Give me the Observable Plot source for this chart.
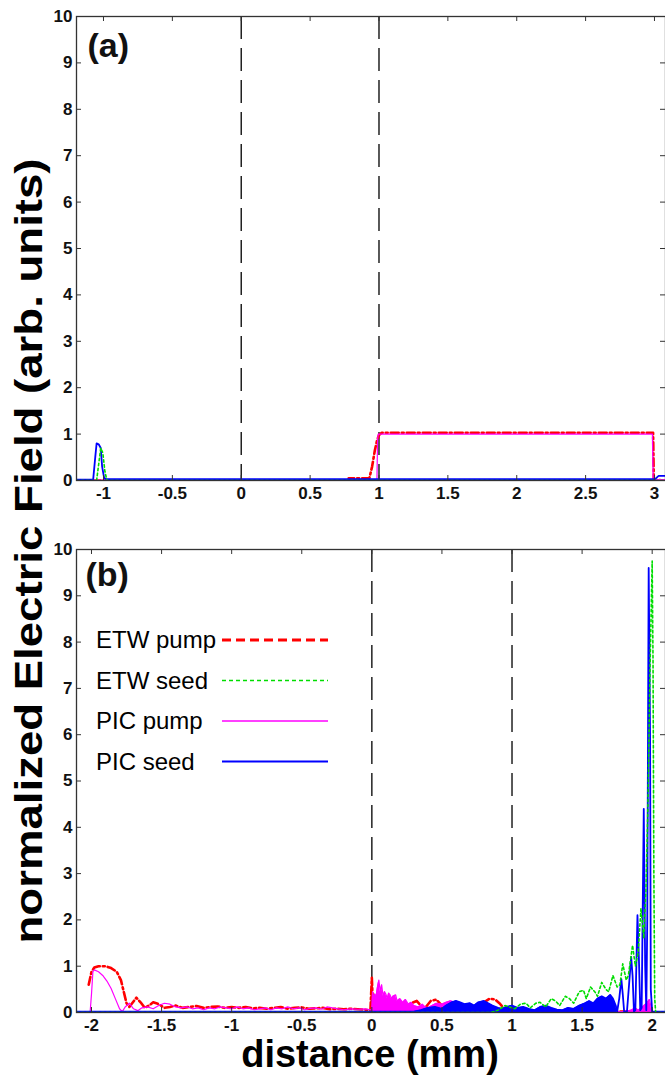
<!DOCTYPE html>
<html>
<head>
<meta charset="utf-8">
<script src="https://cdn.jsdelivr.net/npm/d3@7"></script>
<script src="https://cdn.jsdelivr.net/npm/@observablehq/plot@0.6"></script>
<style>
  html, body { margin: 0; padding: 0; background: #fff; }
  #wrap { position: relative; width: 665px; height: 1076px; overflow: hidden; font-family: "Liberation Sans", Arial, sans-serif; }
  #wrap > .panel { position: absolute; left: 0; }
  #wrap > svg.overlay { position: absolute; left: 0; top: 0; }
</style>
</head>
<body>
<div id="wrap"></div>
<script>
// ---------- data ----------
const yTicks = [0,1,2,3,4,5,6,7,8,9,10];
const aXTicks = [-1,-0.5,0,0.5,1,1.5,2,2.5,3];
const bXTicks = [-2,-1.5,-1,-0.5,0,0.5,1,1.5,2];
const markerLines = [0, 1];
const legendNames = ["ETW pump", "ETW seed", "PIC pump", "PIC seed"];

// panel (a)
const a_etwPump = [[-1.196,0],[0.78,0],[0.78,0.05],[0.93,0.05],[0.95,0.3],[0.97,0.65],[0.985,0.85],[1.0,0.98],[1.02,1.03],[2.99,1.03],[2.995,0.02],[3.08,0]];
const a_etwSeed = [[-1.196,0],[-1.05,0],[-1.035,0.35],[-1.02,0.7],[-1.005,0.6],[-0.99,0.2],[-0.975,0],[3.08,0]];
const a_picPump = [[-1.196,0.01],[0.985,0.01],[0.99,0.9],[0.995,1.0],[2.985,1.0],[2.99,0.02],[3.08,0.02]];
const a_picSeed = [[-1.196,0.02],[-1.075,0.02],[-1.06,0.5],[-1.05,0.8],[-1.035,0.78],[-1.02,0.7],[-1.01,0.3],[-0.995,0.05],[-0.98,0.03],[2.99,0.03],[3.0,0.02],[3.03,0.1],[3.08,0.1]];

// panel (b)
const b_etwPump = [[-2.02,0.6],[-2.0,0.88],[-1.98,0.97],[-1.95,1.0],[-1.9,1.0],[-1.86,0.96],[-1.82,0.88],[-1.79,0.7],[-1.77,0.45],[-1.75,0.2],[-1.73,0.12],[-1.71,0.2],[-1.68,0.32],[-1.65,0.22],[-1.62,0.1],[-1.59,0.15],[-1.56,0.22],[-1.52,0.18],[-1.48,0.1],[-1.44,0.12],[-1.4,0.15],[-1.35,0.1],[-1.3,0.12],[-1.25,0.14],[-1.2,0.1],[-1.15,0.12],[-1.1,0.13],[-1.05,0.1],[-1.0,0.12],[-0.95,0.1],[-0.9,0.12],[-0.85,0.09],[-0.8,0.1],[-0.75,0.08],[-0.7,0.1],[-0.65,0.12],[-0.6,0.08],[-0.55,0.1],[-0.5,0.11],[-0.45,0.08],[-0.4,0.09],[-0.35,0.1],[-0.3,0.07],[-0.25,0.08],[-0.2,0.07],[-0.15,0.08],[-0.1,0.07],[-0.05,0.06],[-0.01,0.05],[0.0,0.75],[0.005,0.35],[0.02,0.3],[0.05,0.25],[0.1,0.2],[0.15,0.22],[0.2,0.15],[0.25,0.12],[0.28,0.2],[0.32,0.25],[0.35,0.15],[0.38,0.1],[0.42,0.25],[0.46,0.28],[0.5,0.15],[0.55,0.1],[0.6,0.15],[0.65,0.12],[0.7,0.1],[0.75,0.15],[0.8,0.22],[0.84,0.3],[0.88,0.28],[0.91,0.2],[0.94,0.1],[0.97,0.05],[1.0,0.02],[2.0,0.02]];
const b_etwSeed = [[-2.107,0],[0.85,0],[0.9,0.05],[0.95,0.15],[0.98,0.12],[1.02,0.08],[1.06,0.18],[1.1,0.2],[1.13,0.1],[1.17,0.2],[1.2,0.22],[1.24,0.12],[1.28,0.3],[1.31,0.25],[1.34,0.15],[1.38,0.35],[1.41,0.3],[1.44,0.2],[1.48,0.45],[1.51,0.48],[1.53,0.3],[1.56,0.55],[1.59,0.45],[1.61,0.35],[1.64,0.65],[1.67,0.5],[1.69,0.45],[1.72,0.8],[1.75,0.55],[1.77,0.6],[1.79,1.05],[1.815,0.7],[1.83,0.8],[1.86,1.45],[1.88,1.0],[1.9,1.3],[1.92,2.25],[1.94,1.6],[1.955,2.6],[1.97,4.5],[1.985,7.5],[2.0,9.75],[2.006,7.6],[2.012,3.0],[2.018,0.3],[2.025,0],[2.095,0]];
const b_picPump = [[-2.107,0],[-2.01,0],[-2.0,0.4],[-1.99,0.88],[-1.98,0.92],[-1.95,0.88],[-1.92,0.8],[-1.89,0.68],[-1.86,0.52],[-1.83,0.3],[-1.8,0.08],[-1.78,0.02],[-1.76,0.12],[-1.73,0.2],[-1.7,0.08],[-1.67,0.04],[-1.64,0.1],[-1.6,0.12],[-1.56,0.08],[-1.52,0.15],[-1.48,0.2],[-1.44,0.18],[-1.4,0.12],[-1.36,0.1],[-1.32,0.12],[-1.28,0.08],[-1.24,0.1],[-1.2,0.06],[-1.16,0.1],[-1.12,0.08],[-1.08,0.12],[-1.04,0.1],[-1.0,0.08],[-0.96,0.12],[-0.92,0.08],[-0.88,0.1],[-0.84,0.06],[-0.8,0.08],[-0.76,0.1],[-0.72,0.06],[-0.68,0.1],[-0.64,0.08],[-0.6,0.12],[-0.56,0.08],[-0.52,0.1],[-0.48,0.06],[-0.44,0.09],[-0.4,0.1],[-0.36,0.07],[-0.32,0.12],[-0.28,0.1],[-0.24,0.08],[-0.2,0.06],[-0.15,0.08],[-0.1,0.07],[-0.05,0.08],[-0.01,0.06],[0.0,0.05],[0.005,0.45],[0.01,0.3],[0.02,0.4],[0.03,0.35],[0.04,0.55],[0.05,0.7],[0.06,0.45],[0.07,0.6],[0.08,0.35],[0.09,0.45],[0.1,0.4],[0.11,0.3],[0.12,0.42],[0.13,0.38],[0.14,0.3],[0.15,0.35],[0.17,0.38],[0.18,0.25],[0.2,0.3],[0.22,0.22],[0.24,0.28],[0.26,0.18],[0.28,0.22],[0.3,0.15],[0.33,0.12],[0.36,0.18],[0.38,0.12],[0.4,0.1],[0.43,0.15],[0.46,0.2],[0.5,0.18],[0.53,0.22],[0.56,0.25],[0.6,0.22],[0.63,0.2],[0.66,0.15],[0.7,0.12],[0.73,0.1],[0.76,0.08],[0.8,0.05],[0.85,0.03],[0.9,0.02],[1.8,0.02],[1.85,0.05],[1.88,0.1],[1.9,0.05],[1.93,0.12],[1.96,0.2],[1.98,0.28],[1.99,0.15],[2.0,0.02],[2.095,0.02]];
const b_picSeed = [[-2.107,0.02],[0.3,0.02],[0.35,0.05],[0.4,0.1],[0.45,0.12],[0.5,0.08],[0.53,0.15],[0.57,0.22],[0.6,0.25],[0.63,0.22],[0.66,0.18],[0.7,0.2],[0.73,0.15],[0.76,0.22],[0.8,0.25],[0.83,0.2],[0.86,0.15],[0.9,0.1],[0.93,0.08],[0.96,0.12],[1.0,0.15],[1.04,0.1],[1.08,0.12],[1.12,0.08],[1.16,0.05],[1.2,0.12],[1.24,0.15],[1.28,0.1],[1.32,0.06],[1.36,0.05],[1.4,0.1],[1.44,0.08],[1.48,0.15],[1.52,0.2],[1.55,0.25],[1.58,0.2],[1.61,0.3],[1.64,0.35],[1.67,0.3],[1.7,0.38],[1.72,0.3],[1.74,0.15],[1.75,0.02],[1.765,0.3],[1.78,0.72],[1.79,0.4],[1.8,0.02],[1.82,0.02],[1.835,0.6],[1.85,1.2],[1.86,0.8],[1.87,0.02],[1.88,0.05],[1.895,2.1],[1.905,1.2],[1.915,0.05],[1.925,0.1],[1.94,4.4],[1.95,1.0],[1.958,0.05],[1.965,2.0],[1.975,9.6],[1.985,6.0],[1.99,0.5],[2.0,0.02],[2.095,0.02]];

// ---------- drawing ----------
const W = 665, ML = 76, MR = 0;
const innerW = W - ML - MR;
const colors = {etwPump: "#ff0000", etwSeed: "#00dd00", picPump: "#ff00ff", picSeed: "#0000ff"};
const fx = d => d[0], fy = d => d[1];

function panel({xDomain, xTicks, mt, mb, height, tag, pump, seed, ppump, pseed, fillPump, fillSeed, tagDx, tagDy}) {
  const innerH = height - mt - mb;
  const marks = [
    Plot.ruleX(markerLines, {stroke: "#222", strokeWidth: 1.5, strokeDasharray: "23,9"}),
    Plot.line(pump, {x: fx, y: fy, stroke: colors.etwPump, strokeWidth: 2.6, strokeDasharray: "8,3,2,3", clip: true})
  ];
  if (fillPump) marks.push(Plot.areaY(ppump.filter(fillPump), {x: fx, y: fy, fill: colors.picPump, clip: true}));
  marks.push(Plot.line(ppump, {x: fx, y: fy, stroke: colors.picPump, strokeWidth: 1.2, clip: true}));
  if (fillSeed) marks.push(Plot.areaY(pseed.filter(fillSeed), {x: fx, y: fy, fill: colors.picSeed, clip: true}));
  marks.push(Plot.line(pseed, {x: fx, y: fy, stroke: colors.picSeed, strokeWidth: 1.8, clip: true}));
  marks.push(Plot.line(seed, {x: fx, y: fy, stroke: colors.etwSeed, strokeWidth: 1.6, strokeDasharray: "2.5,2.5", clip: true}));
  marks.push(
    Plot.frame({stroke: "#333", strokeWidth: 1.3}),
    Plot.tickY(yTicks, {y: d => d, stroke: "#333", insetRight: innerW - 5}),
    Plot.tickY(yTicks, {y: d => d, stroke: "#333", insetLeft: innerW - 5}),
    Plot.tickX(xTicks, {x: d => d, stroke: "#333", insetTop: innerH - 5}),
    Plot.tickX(xTicks, {x: d => d, stroke: "#333", insetBottom: innerH - 5}),
    Plot.axisY(yTicks, {anchor: "left", tickSize: 0, tickPadding: 4, label: null, tickFormat: d => String(d)}),
    Plot.axisX(xTicks, {anchor: "bottom", tickSize: 0, tickPadding: 6, label: null, tickFormat: d => String(d)}),
    Plot.text([tag], {frameAnchor: "top-left", dx: tagDx, dy: tagDy, text: d => d, fontSize: 34, fontWeight: "bold", textAnchor: "start", lineAnchor: "top", fill: "#111"})
  );
  return Plot.plot({
    width: W, height,
    marginLeft: ML, marginRight: MR, marginTop: mt, marginBottom: mb,
    x: {domain: xDomain},
    y: {domain: [0, 10]},
    style: {fontFamily: "Liberation Sans, Arial, sans-serif", fontSize: "17px", fontWeight: "bold", color: "#111", background: "#fff", overflow: "visible"},
    marks
  });
}

const wrap = document.getElementById("wrap");

const pa = panel({
  xDomain: [-1.196, 3.08], xTicks: aXTicks, mt: 16, mb: 30, height: 510, tag: "(a)",
  pump: a_etwPump, seed: a_etwSeed, ppump: a_picPump, pseed: a_picSeed, tagDx: 11, tagDy: 16
});
pa.classList.add("panel"); pa.style.top = "0px";
wrap.appendChild(pa);

const pb = panel({
  xDomain: [-2.107, 2.095], xTicks: bXTicks, mt: 39, mb: 28, height: 530, tag: "(b)",
  pump: b_etwPump, seed: b_etwSeed, ppump: b_picPump, pseed: b_picSeed,
  fillPump: d => d[0] >= 0 && d[0] <= 0.9 || d[0] >= 1.8,
  fillSeed: d => d[0] >= 0.3 && d[0] <= 1.75,
  tagDx: 9, tagDy: 12
});
pb.classList.add("panel"); pb.style.top = "510px";
wrap.appendChild(pb);

// overlay: axis titles and legend
const ns = "http://www.w3.org/2000/svg";
const ov = document.createElementNS(ns, "svg");
ov.setAttribute("class", "overlay");
ov.setAttribute("width", W); ov.setAttribute("height", 1076);
ov.style.pointerEvents = "none";
function txt(str, attrs) {
  const t = document.createElementNS(ns, "text");
  for (const k in attrs) t.setAttribute(k, attrs[k]);
  t.textContent = str;
  ov.appendChild(t);
  return t;
}
txt("normalized Electric Field (arb. units)", {
  x: 0, y: 0, transform: "translate(42,551) rotate(-90)", "text-anchor": "middle",
  "font-family": "Liberation Sans, Arial, sans-serif", "font-weight": "bold", "font-size": 39,
  textLength: 785, lengthAdjust: "spacingAndGlyphs", fill: "#000"
});
txt("distance (mm)", {
  x: 370, y: 1067, "text-anchor": "middle",
  "font-family": "Liberation Sans, Arial, sans-serif", "font-weight": "bold", "font-size": 38, fill: "#000"
});
const legendStyles = [
  {stroke: colors.etwPump, width: 3, dash: "9,5"},
  {stroke: colors.etwSeed, width: 1.5, dash: "4,3"},
  {stroke: colors.picPump, width: 1.5, dash: null},
  {stroke: colors.picSeed, width: 2, dash: null}
];
legendNames.forEach((name, i) => {
  const cy = 640 + i * 40.5;
  txt(name, {x: 96, y: cy + 8, "font-family": "Liberation Sans, Arial, sans-serif", "font-size": 24, fill: "#000"});
  const l = document.createElementNS(ns, "line");
  l.setAttribute("x1", 222); l.setAttribute("x2", 328);
  l.setAttribute("y1", cy); l.setAttribute("y2", cy);
  l.setAttribute("stroke", legendStyles[i].stroke);
  l.setAttribute("stroke-width", legendStyles[i].width);
  if (legendStyles[i].dash) l.setAttribute("stroke-dasharray", legendStyles[i].dash);
  ov.appendChild(l);
});
wrap.appendChild(ov);
</script>
</body>
</html>
